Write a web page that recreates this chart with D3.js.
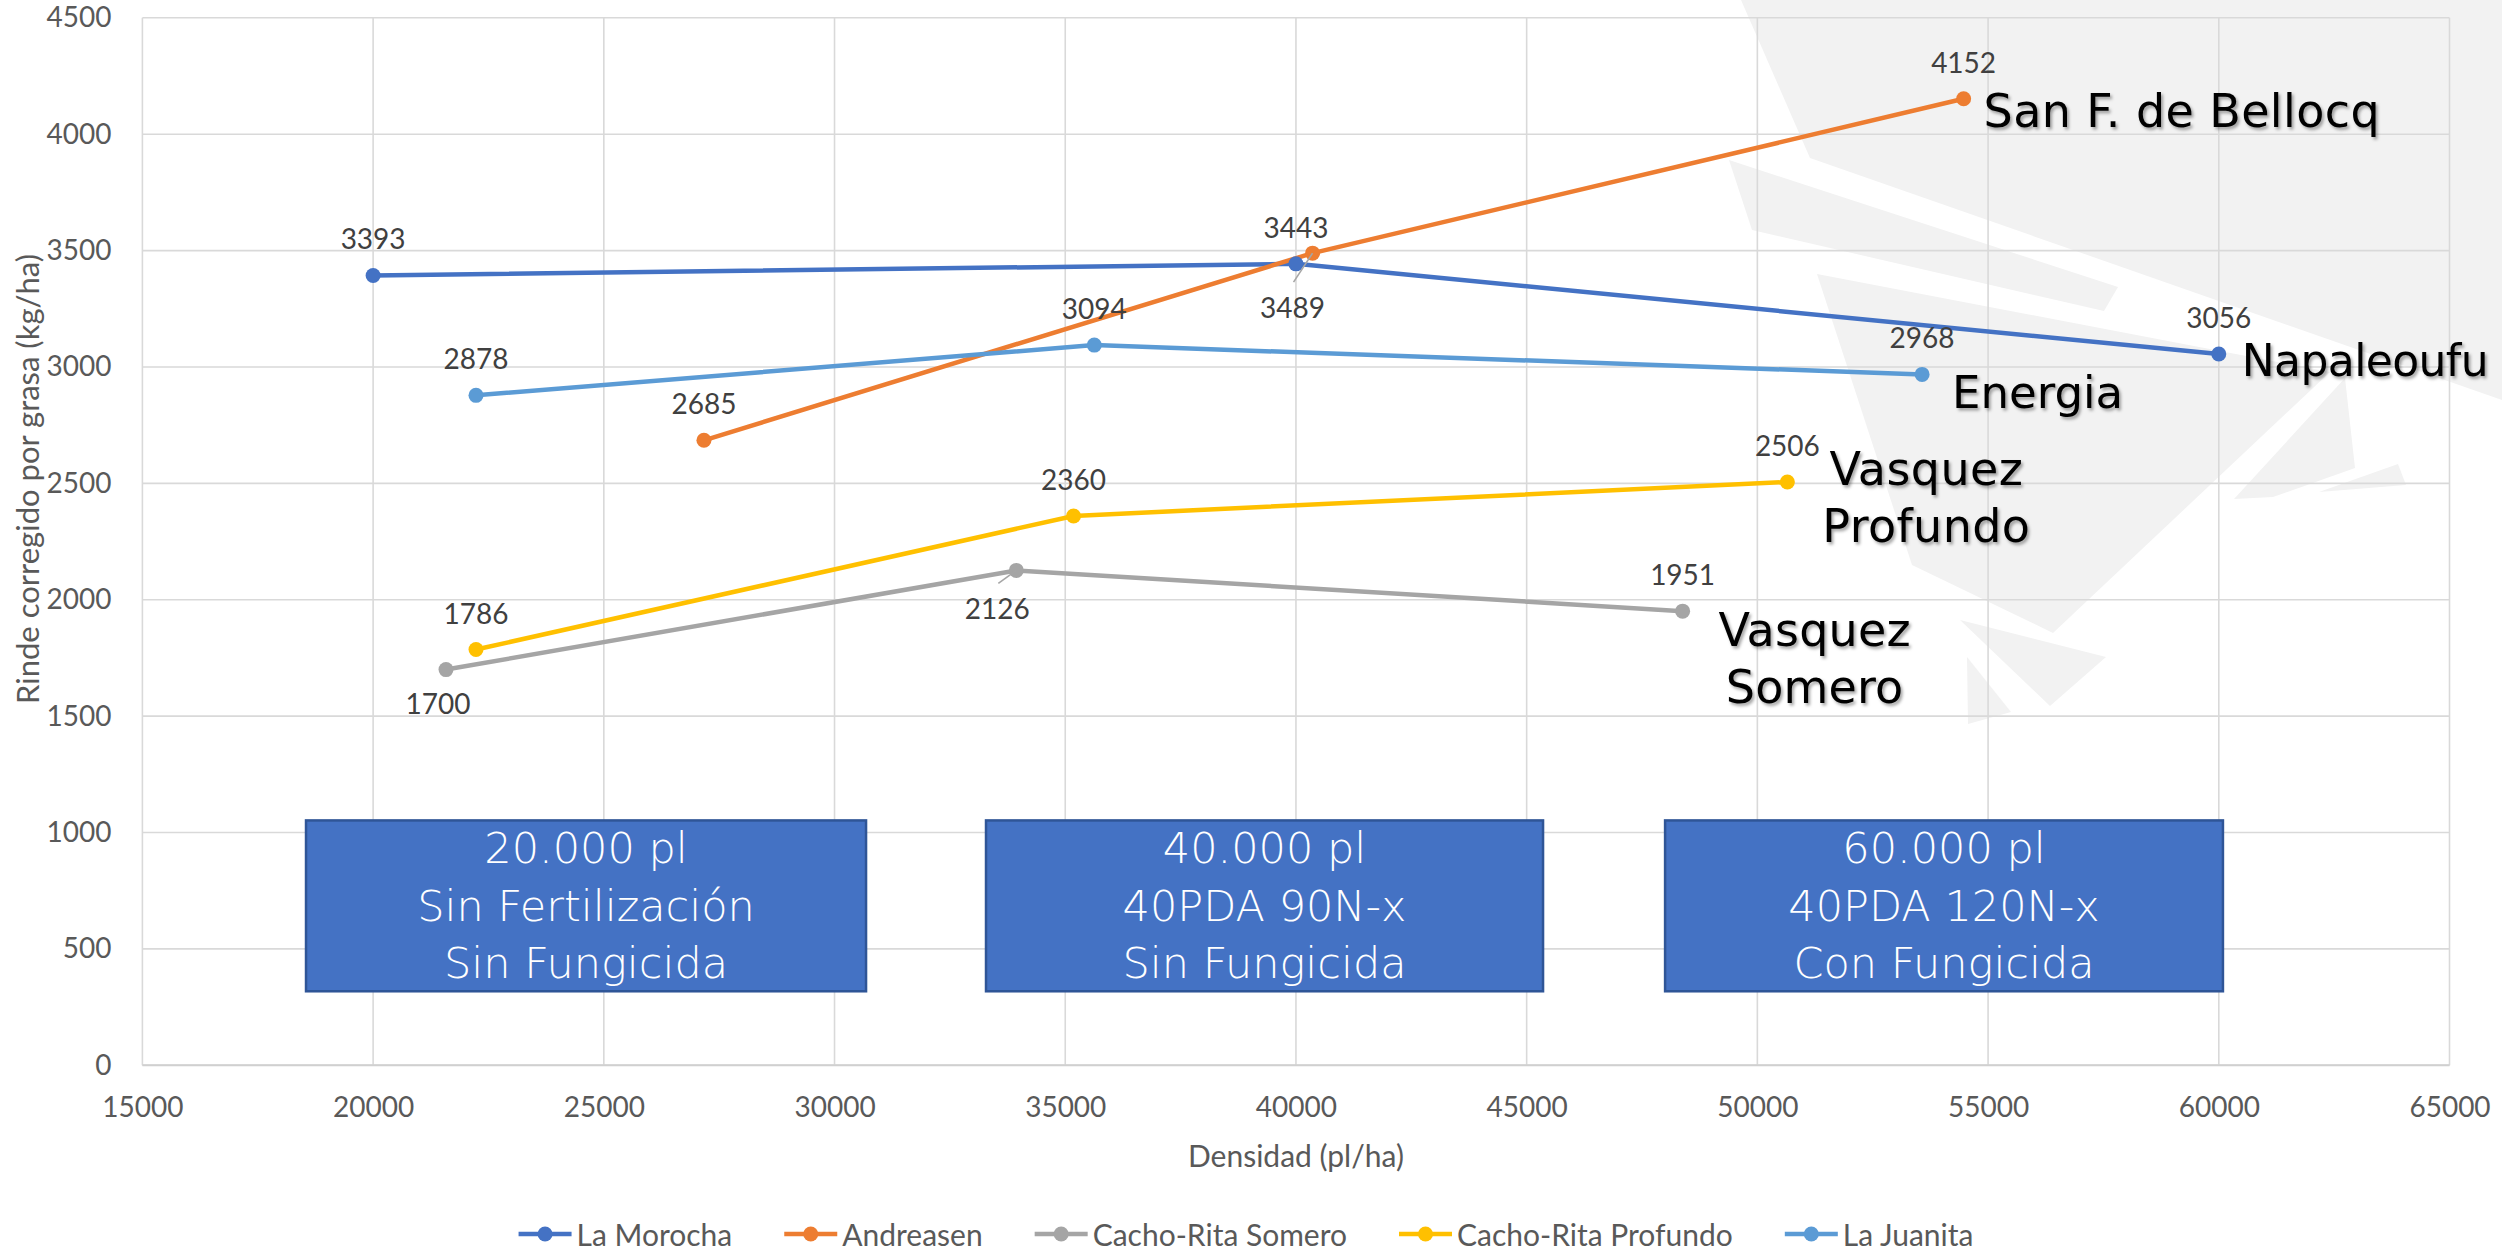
<!DOCTYPE html>
<html><head><meta charset="utf-8">
<script src="https://cdn.jsdelivr.net/npm/d3@7"></script>
<style>body{margin:0;background:#fff;} svg{display:block;}</style>
</head><body>
<svg id="chart" width="2502" height="1251"></svg>
<script>
// ---------------- DATA ----------------
const seriesNames = ["La Morocha", "Andreasen", "Cacho-Rita Somero", "Cacho-Rita Profundo", "La Juanita"];
const xLaMorocha = [20000, 40000, 60000];
const yLaMorocha = [3393, 3443, 3056];
const xAndreasen = [27170, 40360, 54470];
const yAndreasen = [2685, 3489, 4152];
const xSomero = [21580, 33940, 48380];
const ySomero = [1700, 2126, 1951];
const xProfundo = [22230, 35180, 50650];
const yProfundo = [1786, 2360, 2506];
const xJuanita = [22230, 35630, 53570];
const yJuanita = [2878, 3094, 2968];
const xTickValues = [15000, 20000, 25000, 30000, 35000, 40000, 45000, 50000, 55000, 60000, 65000];
const yTickValues = [0, 500, 1000, 1500, 2000, 2500, 3000, 3500, 4000, 4500];
const xTitle = "Densidad (pl/ha)";
const yTitle = "Rinde corregido por grasa (kg/ha)";
const boxTexts = [
  ["20.000 pl", "Sin Fertilización", "Sin Fungicida"],
  ["40.000 pl", "40PDA 90N-x", "Sin Fungicida"],
  ["60.000 pl", "40PDA 120N-x", "Con Fungicida"]
];
const siteTexts = [["San F. de Bellocq"], ["Napaleoufu"], ["Energia"], ["Vasquez", "Profundo"], ["Vasquez", "Somero"]];

// ---------------- STYLE / LAYOUT ----------------
const colors = ["#4472C4", "#ED7D31", "#A5A5A5", "#FFC000", "#5B9BD5"];
const W = 2502, H = 1251;
const plot = {left: 142.4, right: 2449.5, top: 17.8, bottom: 1065.3};
const baseFont = "Lato, 'Liberation Sans', sans-serif";
const geoFont = "'DejaVu Sans', sans-serif";

const seriesX = [xLaMorocha, xAndreasen, xSomero, xProfundo, xJuanita];
const seriesY = [yLaMorocha, yAndreasen, ySomero, yProfundo, yJuanita];
const series = seriesNames.map((name, i) => ({
  name, color: colors[i],
  points: seriesX[i].map((x, j) => ({x, y: seriesY[i][j]}))
}));

// label offsets (label centre relative to point), leader flags
const defaultLabel = {dx: 0, dy: -37, leader: false};
const labelOverrides = {
  "1-1": {dx: -20, dy: 54, leader: true},
  "2-0": {dx: -8, dy: 33, leader: false},
  "2-1": {dx: -19, dy: 38, leader: true}
};
// site annotation placement relative to last point of series
const siteLayout = [
  {s: 1, anchor: "start", dx: 20, dy: 28, size: 46, ls: 0.4},
  {s: 0, anchor: "start", dx: 23, dy: 22, size: 44, ls: -0.6},
  {s: 4, anchor: "start", dx: 30, dy: 34, size: 45, ls: 0},
  {s: 3, anchor: "middle", dx: 139, dy: 3, size: 46, ls: 0.4},
  {s: 2, anchor: "middle", dx: 132, dy: 35, size: 46, ls: 0.2}
];
const boxLayout = {xs: [[18546, 30683], [33283, 45355], [48000, 60090]], y0: 318, y1: 1052};

// background watermark (decorative)
const watermark = [
  [[1741,0],[2502,0],[2502,400],[1810,158]],
  [[1729,160],[2118,287],[2104,311],[1752,230]],
  [[1817,274],[2330,372],[2053,633],[1912,565]],
  [[2234,499],[2273,497],[2355,468],[2345,378]],
  [[2319,492],[2398,464],[2406,485]],
  [[1960,620],[2106,657],[2050,706]],
  [[1967,657],[2011,712],[1968,724]]
];

// ---------------- DRAW ----------------
const svg = d3.select("#chart");
const defs = svg.append("defs");
const f = defs.append("filter").attr("id", "shadow").attr("x", "-10%").attr("y", "-20%").attr("width", "130%").attr("height", "150%");
f.append("feDropShadow").attr("dx", 2).attr("dy", 2.5).attr("stdDeviation", 1.5).attr("flood-color", "#000").attr("flood-opacity", 0.35);

svg.append("rect").attr("width", W).attr("height", H).attr("fill", "#fff");

svg.append("g").selectAll("polygon").data(watermark).join("polygon")
  .attr("points", d => d.map(p => p.join(",")).join(" "))
  .attr("fill", "#F2F2F2");

const x = d3.scaleLinear().domain([15000, 65000]).range([plot.left, plot.right]);
const y = d3.scaleLinear().domain([0, 4500]).range([plot.bottom, plot.top]);

// gridlines
const grid = svg.append("g");
grid.selectAll("line.h").data(yTickValues).join("line").attr("class", "h")
  .attr("x1", plot.left).attr("x2", plot.right).attr("y1", d => y(d)).attr("y2", d => y(d))
  .attr("stroke", "#D9D9D9").attr("stroke-width", 1.6);
grid.selectAll("line.v").data(xTickValues).join("line").attr("class", "v")
  .attr("y1", plot.top).attr("y2", plot.bottom).attr("x1", d => x(d)).attr("x2", d => x(d))
  .attr("stroke", "#D9D9D9").attr("stroke-width", 1.6);
svg.append("line").attr("x1", plot.left).attr("x2", plot.right).attr("y1", plot.bottom).attr("y2", plot.bottom)
  .attr("stroke", "#D0D0D0").attr("stroke-width", 2);

// axes (D3 axes, domain hidden)
const xAxis = svg.append("g").attr("transform", `translate(0,${plot.bottom})`)
  .call(d3.axisBottom(x).tickValues(xTickValues).tickSize(0).tickPadding(30).tickFormat(d3.format("d")));
xAxis.select(".domain").remove();
xAxis.selectAll("text").attr("font-family", baseFont).attr("font-size", 28).attr("fill", "#595959").attr("dy", "0.35em").attr("y", 42);

const yAxis = svg.append("g").attr("transform", `translate(${plot.left},0)`)
  .call(d3.axisLeft(y).tickValues(yTickValues).tickSize(0).tickPadding(31).tickFormat(d3.format("d")));
yAxis.select(".domain").remove();
yAxis.selectAll("text").attr("font-family", baseFont).attr("font-size", 28).attr("fill", "#595959");

// axis titles
svg.append("text").attr("x", (plot.left + plot.right) / 2).attr("y", 1167)
  .attr("text-anchor", "middle").attr("font-family", baseFont).attr("font-size", 30).attr("fill", "#595959").text(xTitle);
svg.append("text").attr("transform", "translate(39,479) rotate(-90)")
  .attr("text-anchor", "middle").attr("font-family", baseFont).attr("font-size", 31).attr("fill", "#595959").text(yTitle);

// boxes
const boxes = svg.append("g");
boxLayout.xs.forEach((bx, i) => {
  const x0 = x(bx[0]), x1 = x(bx[1]), yt = y(boxLayout.y1), yb = y(boxLayout.y0);
  boxes.append("rect").attr("x", x0).attr("y", yt).attr("width", x1 - x0).attr("height", yb - yt)
    .attr("fill", "#4472C4").attr("stroke", "#2F5597").attr("stroke-width", 2.5);
  const cx = (x0 + x1) / 2, cy = (yt + yb) / 2;
  boxTexts[i].forEach((t, k) => {
    boxes.append("text").attr("x", cx).attr("y", cy + (k - 1) * 57.5)
      .attr("text-anchor", "middle").attr("dominant-baseline", "central")
      .attr("font-family", geoFont).attr("font-weight", 200).attr("font-size", 43).attr("fill", "#fff").text(t);
  });
});

// series lines
const line = d3.line().x(d => x(d.x)).y(d => y(d.y));
const sg = svg.append("g");
series.forEach(s => {
  sg.append("path").attr("d", line(s.points)).attr("fill", "none").attr("stroke", s.color)
    .attr("stroke-width", 4.5).attr("stroke-linejoin", "round").attr("stroke-linecap", "round");
});
series.forEach(s => {
  sg.selectAll(null).data(s.points).join("circle")
    .attr("cx", d => x(d.x)).attr("cy", d => y(d.y)).attr("r", 7.5).attr("fill", s.color);
});

// data labels
const lg = svg.append("g");
series.forEach((s, i) => {
  s.points.forEach((p, j) => {
    const o = labelOverrides[`${i}-${j}`] || defaultLabel;
    const px = x(p.x), py = y(p.y);
    const lx = px + o.dx, ly = py + o.dy;
    if (o.leader) {
      lg.append("line").attr("x1", lx + 1).attr("y1", ly - 25).attr("x2", px).attr("y2", py)
        .attr("stroke", "#A6A6A6").attr("stroke-width", 1.6);
    }
    lg.append("text").attr("x", lx).attr("y", ly).attr("text-anchor", "middle").attr("dominant-baseline", "central")
      .attr("font-family", baseFont).attr("font-size", 28).attr("fill", "#404040").text(d3.format("d")(p.y));
  });
});

// site annotations
const ag = svg.append("g").attr("filter", "url(#shadow)");
siteLayout.forEach((L, i) => {
  const s = series[L.s];
  const p = s.points[s.points.length - 1];
  const px = x(p.x) + L.dx, py = y(p.y) + L.dy;
  siteTexts[i].forEach((t, k) => {
    ag.append("text").attr("x", px).attr("y", py + k * 56.7).attr("text-anchor", L.anchor)
      .attr("font-family", geoFont).attr("font-size", L.size).attr("letter-spacing", L.ls).attr("fill", "#000").text(t);
  });
});

// legend
const leg = svg.append("g");
const legY = 1234, lineLen = 53, textGap = 5, itemGap = 52;
const items = [];
let cursor = 0;
seriesNames.forEach((n, i) => {
  const g = leg.append("g");
  g.append("line").attr("x1", 0).attr("x2", lineLen).attr("y1", 0).attr("y2", 0).attr("stroke", colors[i]).attr("stroke-width", 4.5);
  g.append("circle").attr("cx", lineLen / 2).attr("cy", 0).attr("r", 7.5).attr("fill", colors[i]);
  const t = g.append("text").attr("x", lineLen + textGap).attr("y", 0).attr("dominant-baseline", "central")
    .attr("font-family", baseFont).attr("font-size", 30).attr("fill", "#595959").text(n);
  const w = lineLen + textGap + t.node().getComputedTextLength();
  items.push({g, off: cursor});
  cursor += w + itemGap;
});
const total = cursor - itemGap;
const start = W / 2 - total / 2 - 5;
items.forEach(it => it.g.attr("transform", `translate(${start + it.off},${legY})`));
</script>
</body></html>
